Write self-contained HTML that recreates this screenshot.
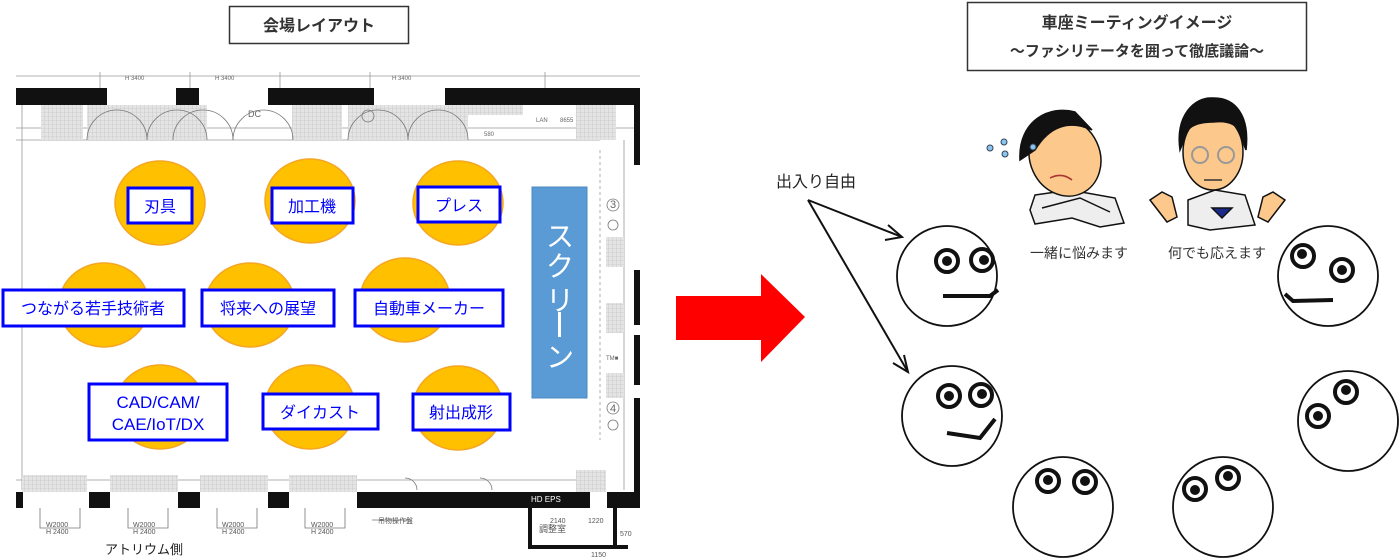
<!DOCTYPE html>
<html><head><meta charset="utf-8"><style>
html,body{margin:0;padding:0;background:#fff;width:1400px;height:560px;overflow:hidden}
svg{display:block}
text{font-family:"Liberation Sans","Noto Sans CJK JP",sans-serif}
</style></head><body>
<svg width="1400" height="560" viewBox="0 0 1400 560" xmlns="http://www.w3.org/2000/svg">
<defs>
<pattern id="hatch" width="4" height="4" patternUnits="userSpaceOnUse"><rect width="4" height="4" fill="#e4e4e4"/><path d="M0 0H4M0 0V4" stroke="#bbb" stroke-width="0.6"/></pattern>
</defs>
<!-- Left title -->
<rect x="229.5" y="6.5" width="179" height="37" fill="#fff" stroke="#333" stroke-width="1.5"/>
<text x="319" y="31" font-size="16" font-weight="bold" fill="#333" text-anchor="middle">会場レイアウト</text>

<!-- Floor plan -->
<g stroke="#999" stroke-width="0.8" fill="none">
<line x1="16" y1="140" x2="600" y2="140"/>
<line x1="16" y1="480" x2="600" y2="480"/>
<line x1="22" y1="105" x2="22" y2="490"/>
<line x1="600" y1="150" x2="600" y2="440" stroke-dasharray="3 3"/>
<line x1="16" y1="76" x2="640" y2="76"/>
<line x1="100" y1="72" x2="100" y2="88"/><line x1="190" y1="72" x2="190" y2="88"/><line x1="280" y1="72" x2="280" y2="88"/><line x1="370" y1="72" x2="370" y2="88"/><line x1="545" y1="72" x2="545" y2="88"/>
<line x1="16" y1="128" x2="640" y2="128"/>
<line x1="624" y1="140" x2="624" y2="490"/>
</g>
<g font-size="6" fill="#666"><text x="125" y="80">H 3400</text><text x="215" y="80">H 3400</text><text x="392" y="80">H 3400</text>
<text x="59" y="130">580</text><text x="297" y="130">580</text><text x="484" y="136">580</text><text x="600" y="136">580</text><text x="410" y="122">11605</text><text x="560" y="122">8655</text>
<text x="536" y="122">LAN</text><text x="110" y="117" font-size="9">DC</text><text x="248" y="117" font-size="9">DC</text><text x="362" y="120" font-size="11">2</text>
<text x="610" y="208" font-size="11">3</text><text x="610" y="412" font-size="11">4</text><text x="606" y="360">TM■</text>
</g>
<!-- hatched areas -->
<g fill="url(#hatch)">
<rect x="41" y="105" width="42" height="35"/><rect x="87" y="105" width="120" height="35"/><rect x="292" y="105" width="50" height="35"/><rect x="348" y="105" width="120" height="35"/><rect x="468" y="105" width="55" height="10"/><rect x="576" y="105" width="40" height="35"/>
<rect x="606" y="237" width="18" height="30"/><rect x="606" y="303" width="18" height="30"/><rect x="606" y="373" width="18" height="25"/>
<rect x="22" y="475" width="65" height="17"/><rect x="110" y="475" width="68" height="17"/><rect x="200" y="475" width="68" height="17"/><rect x="289" y="475" width="68" height="17"/><rect x="576" y="470" width="30" height="22"/>
</g>
<g stroke="#777" stroke-width="0.8" fill="none">
<path d="M87 140 A30 30 0 0 1 147 140"/><path d="M147 140 A30 30 0 0 1 207 140"/><path d="M173 140 A30 30 0 0 1 233 140"/><path d="M233 140 A30 30 0 0 1 293 140"/><path d="M348 140 A30 30 0 0 1 408 140"/><path d="M408 140 A30 30 0 0 1 468 140"/>
<path d="M40 508 v20 h20 M80 508 v20 h-20"/><path d="M128 508 v20 h20 M168 508 v20 h-20"/><path d="M217 508 v20 h20 M257 508 v20 h-20"/><path d="M305 508 v20 h20 M345 508 v20 h-20"/>
<circle cx="613" cy="205" r="6"/><circle cx="613" cy="225" r="5"/><circle cx="613" cy="408" r="6"/><circle cx="613" cy="425" r="5"/><circle cx="368" cy="116" r="6"/>
<path d="M372 520 h40"/><path d="M405 478 a12 12 0 0 1 12 12"/><path d="M480 478 a12 12 0 0 1 12 12"/>
</g>
<!-- walls -->
<g fill="#111">
<rect x="16" y="88" width="91" height="17"/><rect x="176" y="88" width="23" height="17"/><rect x="268" y="88" width="106" height="17"/><rect x="445" y="88" width="195" height="17"/>
<rect x="16" y="492" width="7" height="16"/><rect x="89" y="492" width="21" height="16"/><rect x="178" y="492" width="22" height="16"/><rect x="268" y="492" width="21" height="16"/><rect x="357" y="492" width="233" height="16"/><rect x="607" y="492" width="33" height="16"/>
<rect x="634" y="105" width="6" height="60"/><rect x="634" y="270" width="6" height="55"/><rect x="634" y="335" width="6" height="50"/><rect x="634" y="398" width="6" height="94"/>
<rect x="528" y="508" width="4" height="40"/><rect x="528" y="545" width="100" height="4"/><rect x="613" y="492" width="4" height="56"/>
</g>
<text x="531" y="502" font-size="8" fill="#fff">HD EPS</text>
<g font-size="7" fill="#555"><text x="539" y="532" font-size="9">調整室</text><text x="550" y="523">2140</text><text x="588" y="523">1220</text><text x="620" y="536">570</text><text x="591" y="557">1150</text><text x="378" y="523">吊物操作盤</text>
<text x="46" y="527">W2000</text><text x="46" y="534">H 2400</text><text x="133" y="527">W2000</text><text x="133" y="534">H 2400</text><text x="222" y="527">W2000</text><text x="222" y="534">H 2400</text><text x="311" y="527">W2000</text><text x="311" y="534">H 2400</text></g>
<text x="105" y="554" font-size="13" fill="#222">アトリウム側</text>

<!-- tables -->
<g fill="#FFC000" stroke="#F5A623" stroke-width="1.5">
<ellipse cx="160" cy="203" rx="45" ry="42"/><ellipse cx="310" cy="201" rx="45" ry="42"/><ellipse cx="458" cy="203" rx="45" ry="42"/>
<ellipse cx="104" cy="305" rx="45" ry="42"/><ellipse cx="250" cy="305" rx="45" ry="42"/><ellipse cx="405" cy="300" rx="45" ry="42"/>
<ellipse cx="160" cy="407" rx="45" ry="42"/><ellipse cx="310" cy="407" rx="45" ry="42"/><ellipse cx="458" cy="408" rx="45" ry="42"/>
</g>
<g fill="#fff" stroke="#0000FF" stroke-width="3">
<rect x="128" y="188" width="64" height="35"/><rect x="272" y="188" width="81" height="35"/><rect x="418" y="187" width="82" height="35"/>
<rect x="3" y="290" width="181" height="36"/><rect x="202" y="290" width="132" height="36"/><rect x="355" y="290" width="148" height="36"/>
<rect x="89" y="384" width="138" height="56"/><rect x="263" y="394" width="115" height="35"/><rect x="413" y="394" width="97" height="36"/>
</g>
<g fill="#0000FF" font-size="16" text-anchor="middle">
<text x="160" y="212">刃具</text><text x="312" y="212">加工機</text><text x="459" y="211">プレス</text>
<text x="93" y="314">つながる若手技術者</text><text x="268" y="314">将来への展望</text><text x="429" y="314">自動車メーカー</text>
<text x="158" y="408" font-size="17">CAD/CAM/</text><text x="158" y="430" font-size="17">CAE/IoT/DX</text><text x="320" y="418">ダイカスト</text><text x="461" y="418">射出成形</text>
</g>
<rect x="532" y="187" width="55" height="211" fill="#5B9BD5" stroke="#4A88C0" stroke-width="1"/>
<g fill="#fff" font-size="28" text-anchor="middle">
<text x="560" y="246">ス</text>
<text x="560" y="276">ク</text>
<text x="560" y="310">リ</text>
<rect x="558" y="312" width="3" height="25"/>
<text x="560" y="367">ン</text>
</g>

<!-- Red arrow -->
<polygon points="676,296 761,296 761,274 805,317 761,362 761,340 676,340" fill="#FF0000"/>

<!-- Right title -->
<rect x="967.5" y="2.5" width="339" height="68" fill="#fff" stroke="#333" stroke-width="1.5"/>
<text x="1137" y="28" font-size="16" font-weight="bold" fill="#333" text-anchor="middle">車座ミーティングイメージ</text>
<text x="1137" y="56" font-size="15" font-weight="bold" fill="#333" text-anchor="middle">～ファシリテータを囲って徹底議論～</text>

<text x="776" y="187" font-size="16" fill="#222">出入り自由</text>
<g stroke="#111" stroke-width="2" fill="none">
<line x1="808" y1="200" x2="902" y2="237"/><polyline points="888,225 902,237 885,240"/>
<line x1="808" y1="200" x2="908" y2="372"/><polyline points="904,355 908,372 893,363"/>
</g>

<text x="1079" y="258" font-size="14" fill="#333" text-anchor="middle">一緒に悩みます</text>
<text x="1217" y="258" font-size="14" fill="#333" text-anchor="middle">何でも応えます</text>

<!-- person 1 -->
<g stroke="#111" stroke-width="1.5">
<path d="M1035 195 L1070 190 L1115 198 L1124 223 L1100 227 L1072 218 L1035 224 L1030 210 Z" fill="#eee"/>
<ellipse cx="1065" cy="157" rx="35" ry="40" fill="#FCC88C" transform="rotate(-25 1065 157)"/>
<path d="M1020 160 C1018 120 1050 105 1075 112 L1092 130 C1070 120 1050 125 1035 150 Z" fill="#111"/>
<path d="M1050 178 q12 -6 22 2" fill="none" stroke="#a33"/>
<path d="M1042 208 L1080 198 L1110 212" fill="none"/>
</g>
<g fill="#8cc4f0" stroke="#345"><circle cx="990" cy="148" r="3"/><circle cx="1004" cy="142" r="3"/><circle cx="1005" cy="154" r="3"/><circle cx="1033" cy="147" r="3"/></g>
<!-- person 2 -->
<g stroke="#111" stroke-width="1.5">
<path d="M1188 200 L1215 190 L1245 195 L1255 225 L1210 230 L1188 225 Z" fill="#eee"/>
<path d="M1212 208 l10 10 l10 -10 z" fill="#1a2a8a"/>
<ellipse cx="1213" cy="152" rx="30" ry="38" fill="#FCC88C"/>
<path d="M1180 150 C1175 115 1195 97 1212 98 C1235 97 1250 115 1246 150 L1242 140 C1240 125 1230 120 1213 122 C1195 122 1185 128 1184 140 Z" fill="#111"/>
<circle cx="1200" cy="155" r="8" fill="none" stroke="#999" stroke-width="2"/><circle cx="1226" cy="155" r="8" fill="none" stroke="#999" stroke-width="2"/>
<path d="M1204 180 h18" stroke="#333"/>
<path d="M1150 200 l12 -8 l10 5 l5 20 l-10 5 z" fill="#FCC88C"/>
<path d="M1285 200 l-12 -8 l-10 5 l-5 20 l10 5 z" fill="#FCC88C"/>
</g>

<!-- faces -->
<g stroke="#111" fill="#fff">
<circle cx="947" cy="276" r="50" stroke-width="1.8"/>
<circle cx="952" cy="416" r="50" stroke-width="1.8"/>
<circle cx="1063" cy="507" r="50" stroke-width="1.8"/>
<circle cx="1223" cy="507" r="50" stroke-width="1.8"/>
<circle cx="1348" cy="421" r="50" stroke-width="1.8"/>
<circle cx="1328" cy="276" r="50" stroke-width="1.8"/>
</g>
<g fill="#fff" stroke="#111" stroke-width="4">
<circle cx="947" cy="261" r="11"/><circle cx="982" cy="260" r="11"/>
<circle cx="949" cy="396" r="11"/><circle cx="981" cy="395" r="11"/>
<circle cx="1048" cy="481" r="11"/><circle cx="1085" cy="482" r="11"/>
<circle cx="1195" cy="489" r="11"/><circle cx="1228" cy="478" r="11"/>
<circle cx="1346" cy="392" r="11"/><circle cx="1318" cy="416" r="11"/>
<circle cx="1303" cy="256" r="11"/><circle cx="1342" cy="270" r="11"/>
</g>
<g fill="#111">
<circle cx="947" cy="261" r="5"/><circle cx="984" cy="260" r="5"/>
<circle cx="949" cy="396" r="5"/><circle cx="982" cy="394" r="5"/>
<circle cx="1048" cy="480" r="5"/><circle cx="1085" cy="481" r="5"/>
<circle cx="1195" cy="490" r="5"/><circle cx="1228" cy="476" r="5"/>
<circle cx="1346" cy="390" r="5"/><circle cx="1318" cy="416" r="5"/>
<circle cx="1302" cy="254" r="5"/><circle cx="1342" cy="270" r="5"/>
</g>
<g stroke="#111" stroke-width="4" fill="none">
<polyline points="943,296 990,296 998,290"/>
<polyline points="947,433 980,438 995,419"/>
<polyline points="1285,294 1293,301 1333,300"/>
</g>
</svg>
</body></html>
